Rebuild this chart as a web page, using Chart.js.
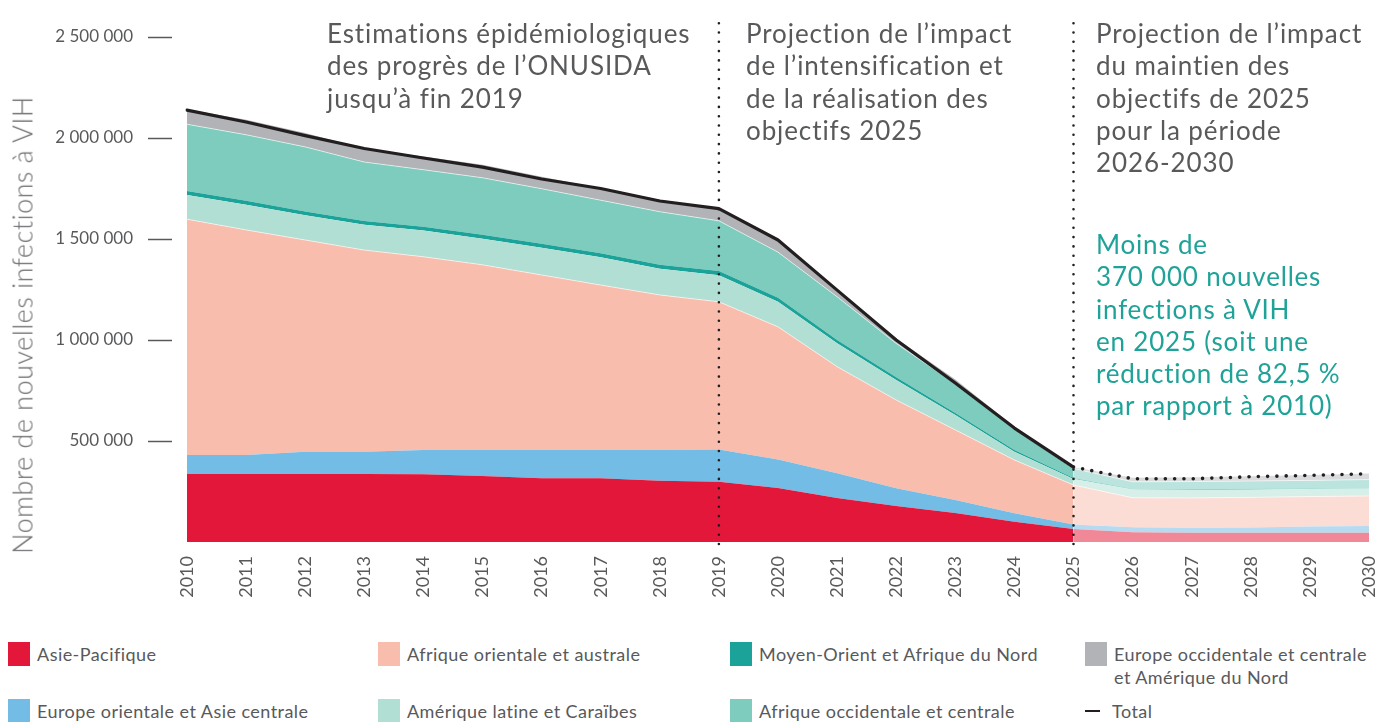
<!DOCTYPE html>
<html lang="fr">
<head>
<meta charset="utf-8">
<script src="https://cdn.jsdelivr.net/npm/chart.js@4.4.1/dist/chart.umd.min.js"></script>
<style>
  body { margin: 0; background: #fff; font-family: Lato, "Open Sans", sans-serif; color: #58595b; }
  #wrap { position: relative; width: 1381px; height: 722px; overflow: hidden; }
  #chart { position: absolute; left: 0; top: 0; }
  .note { position: absolute; top: 17px; font-size: 26px; letter-spacing: 0.9px; line-height: 32.3px; white-space: nowrap; color: #58595b; }
  .green { color: #1fa398; top: 228px; letter-spacing: 0.8px; }
  #ytitle { position: absolute; left: 22px; top: 325px; transform: translate(-50%, -50%) rotate(-90deg);
            font-size: 27px; font-weight: 300; letter-spacing: 0.5px; color: #6d6e71; white-space: nowrap; }
  #legend { position: absolute; left: 8px; top: 642px; display: grid;
            grid-template-columns: 370px 352px 355px 300px; grid-template-rows: 57px 57px; }
  .item { display: flex; align-items: flex-start; font-size: 18px; letter-spacing: 0.45px; line-height: 23px; color: #58595b; }
  .sw { width: 22px; height: 24px; margin-right: 7px; flex: none; }
  .dash { width: 15px; height: 1.5px; background: #231f20; margin: 11px 12px 0 0; flex: none; }
</style>
</head>
<body>
<div id="wrap">
  <canvas id="chart" width="1381" height="620"></canvas>
  <div id="ytitle">Nombre de nouvelles infections à VIH</div>
  <div class="note" style="left:327px">Estimations épidémiologiques<br>des progrès de l’ONUSIDA<br>jusqu’à fin 2019</div>
  <div class="note" style="left:746px">Projection de l’impact<br>de l’intensification et<br>de la réalisation des<br>objectifs 2025</div>
  <div class="note" style="left:1096px">Projection de l’impact<br>du maintien des<br>objectifs de 2025<br>pour la période<br>2026-2030</div>
  <div class="note green" style="left:1096px">Moins de<br>370 000 nouvelles<br>infections à VIH<br>en 2025 (soit une<br>réduction de 82,5 %<br>par rapport à 2010)</div>
  <div id="legend"></div>
</div>
<script>
const years = ['2010', '2011', '2012', '2013', '2014', '2015', '2016', '2017', '2018', '2019', '2020',
               '2021', '2022', '2023', '2024', '2025', '2026', '2027', '2028', '2029', '2030'];

const asiePacifique = [337000, 337000, 337000, 337000, 336000, 327000, 316000, 315000, 303000, 298000, 267000,
                       218000, 178000, 144000, 100000, 64000, 48000, 46000, 46000, 46000, 46000];
const europeOrientale = [94000, 94000, 110000, 110000, 119000, 129000, 140000, 140000, 153000, 160000, 142000,
                         122000, 88000, 64000, 42000, 23000, 25000, 25000, 26000, 31000, 33000];
const afriqueOrientale = [1167000, 1114000, 1048000, 998000, 957000, 916000, 866000, 817000, 767000, 731000, 656000,
                          528000, 437000, 347000, 264000, 195000, 146000, 147000, 149000, 148000, 149000];
const ameriqueLatine = [120000, 124000, 122000, 125000, 130000, 129000, 135000, 138000, 130000, 132000, 124000,
                        116000, 99000, 74000, 41000, 30000, 41000, 40000, 38000, 37000, 37000];
const moyenOrient = [20000, 20000, 19000, 19000, 19000, 20000, 20000, 20000, 20000, 21000, 20000,
                     16000, 14000, 10000, 8000, 5000, 2000, 3000, 5000, 3000, 2000];
const afriqueOccidentale = [330000, 327000, 320000, 292000, 282000, 282000, 272000, 262000, 262000, 248000, 226000,
                            214000, 167000, 145000, 104000, 47000, 36000, 38000, 38000, 40000, 42000];
const europeOccidentale = [74000, 74000, 69000, 66000, 66000, 64000, 59000, 59000, 59000, 60000, 58000,
                           25000, 25000, 20000, 11000, 6000, 20000, 22000, 24000, 27000, 30000];
const total = [2138000, 2079000, 2012000, 1948000, 1901000, 1856000, 1797000, 1750000, 1688000, 1650000, 1495000,
               1247000, 1000000, 787000, 564000, 371000, 313000, 313000, 323000, 330000, 338000];

const yTicks = [500000, 1000000, 1500000, 2000000, 2500000];
const markerYears = ['2019', '2025'];
const lastEstimate = years.indexOf('2025');

const regions = [
  { label: 'Asie-Pacifique', values: asiePacifique, color: '#e3173a', light: '#f08898', line: 0 },
  { label: 'Europe orientale et Asie centrale', values: europeOrientale, color: '#72bce6', light: '#b6dbf1', line: 0 },
  { label: 'Afrique orientale et australe', values: afriqueOrientale, color: '#f9bdae', light: '#fcddd5', line: 0.8 },
  { label: 'Amérique latine et Caraïbes', values: ameriqueLatine, color: '#b2dfd4', light: '#d7efe9', line: 0 },
  { label: 'Moyen-Orient et Afrique du Nord', values: moyenOrient, color: '#1ba39a', light: '#7fccc2', line: 0 },
  { label: 'Afrique occidentale et centrale', values: afriqueOccidentale, color: '#7eccbd', light: '#bae4dd', line: 0.8 },
  { label: 'Europe occidentale et centrale<br>et Amérique du Nord', values: europeOccidentale, color: '#b1b3b6', light: '#dadbdc', line: 0 }
];

const datasets = regions.map((r, i) => ({
  label: r.label,
  data: r.values,
  stack: 'regions',
  fill: i === 0 ? 'origin' : '-1',
  backgroundColor: r.color,
  borderColor: 'rgba(255,255,255,0.75)',
  borderWidth: r.line,
  pointRadius: 0,
  tension: 0,
  segment: {
    backgroundColor: c => c.p0DataIndex >= lastEstimate ? r.light : undefined
  }
}));

datasets.push({
  label: 'Total',
  data: total,
  stack: 'total',
  order: -1,
  fill: false,
  borderColor: '#231f20',
  borderWidth: 3.2,
  borderCapStyle: 'round',
  borderJoinStyle: 'round',
  pointRadius: 0,
  tension: 0,
  segment: {
    borderDash: c => c.p0DataIndex >= lastEstimate ? [0, 9.3] : undefined,
    borderWidth: c => c.p0DataIndex >= lastEstimate ? 3.6 : undefined
  }
});

function spaced(v) {
  return String(v).replace(/\B(?=(\d{3})+(?!\d))/g, ' ');
}

// lignes pointillées verticales + petits traits de l'axe Y
const extras = {
  id: 'extras',
  afterDatasetsDraw(chart) {
    const { ctx, chartArea, scales: { x, y } } = chart;
    ctx.save();
    ctx.strokeStyle = '#231f20';
    ctx.lineWidth = 2.6;
    ctx.lineCap = 'round';
    ctx.setLineDash([0, 9.3]);
    markerYears.forEach(yr => {
      const px = x.getPixelForValue(years.indexOf(yr));
      ctx.beginPath();
      ctx.moveTo(px, chartArea.bottom + 2);
      ctx.lineTo(px, 14);
      ctx.stroke();
    });
    ctx.setLineDash([]);
    ctx.lineCap = 'butt';
    ctx.strokeStyle = '#58595b';
    ctx.lineWidth = 1.5;
    yTicks.forEach(v => {
      const py = Math.round(y.getPixelForValue(v)) + 0.5;
      ctx.beginPath();
      ctx.moveTo(chartArea.left - 39, py);
      ctx.lineTo(chartArea.left - 15, py);
      ctx.stroke();
    });
    ctx.restore();
  }
};

const ctx = document.getElementById('chart').getContext('2d');
const myChart = new Chart(ctx, {
  type: 'line',
  data: { labels: years, datasets: datasets },
  plugins: [extras],
  options: {
    responsive: false,
    animation: false,
    layout: { padding: { top: 37, right: 12, left: 0, bottom: 0 } },
    plugins: { legend: { display: false }, tooltip: { enabled: false } },
    scales: {
      x: {
        grid: { display: false },
        border: { display: false },
        afterFit: s => { s.height = 78; s.paddingLeft = 0; s.paddingRight = 0; },
        ticks: {
          minRotation: 90, maxRotation: 90, autoSkip: false, padding: 6,
          color: '#58595b', font: { family: 'Lato', size: 18 }
        }
      },
      y: {
        stacked: true,
        min: 0,
        max: 2500000,
        grid: { display: false },
        border: { display: false },
        afterFit: s => { s.width = 187; s.paddingTop = 0; s.paddingBottom = 0; },
        afterBuildTicks: s => { s.ticks = [0].concat(yTicks).map(v => ({ value: v })); },
        ticks: {
          padding: 46,
          color: '#58595b',
          font: { family: 'Lato', size: 17 },
          callback: v => v === 0 ? '' : spaced(v)
        }
      }
    }
  }
});

// légende HTML
const legendOrder = [0, 2, 4, 6, 1, 3, 5];
const legend = document.getElementById('legend');
legendOrder.forEach(i => {
  const r = regions[i];
  const div = document.createElement('div');
  div.className = 'item';
  div.innerHTML = '<span class="sw" style="background:' + r.color + '"></span><span style="margin-top:1px">' + r.label + '</span>';
  legend.appendChild(div);
});
const tot = document.createElement('div');
tot.className = 'item';
tot.innerHTML = '<span class="dash"></span><span style="margin-top:1px">Total</span>';
legend.appendChild(tot);
</script>
</body>
</html>
